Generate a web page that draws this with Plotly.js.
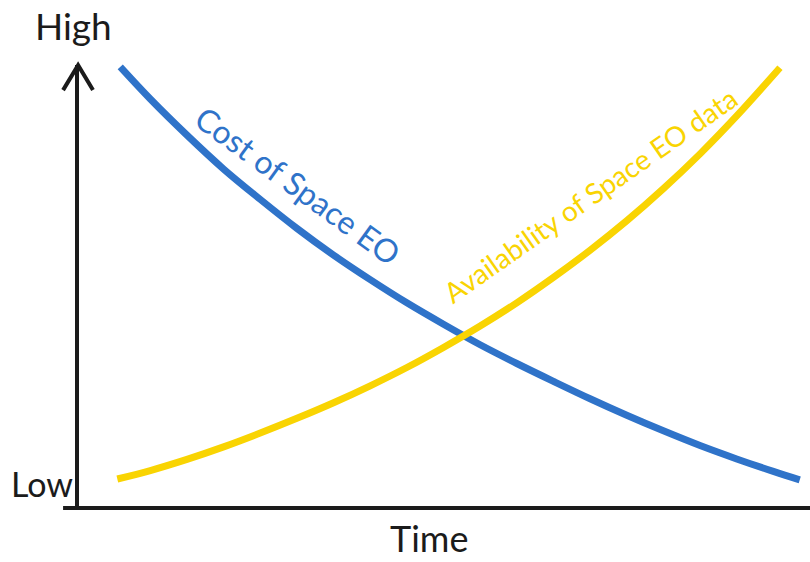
<!DOCTYPE html>
<html>
<head>
<meta charset="utf-8">
<script src="https://cdn.plot.ly/plotly-3.0.1.min.js"></script>
<style>html,body{margin:0;padding:0;background:#fff;}#chart{width:810px;height:562px;}</style>
</head>
<body>
<div id="chart"></div>
<script>
var costX = [0.59, 1.0, 1.5, 2.0, 2.5, 3.0, 3.5, 4.0, 4.5, 5.0, 5.5, 6.0, 6.5, 7.0, 7.5, 8.0, 8.5, 9.0, 9.5, 9.86];
var costY = [9.89, 9.17, 8.36, 7.60, 6.92, 6.27, 5.67, 5.12, 4.60, 4.12, 3.66, 3.24, 2.84, 2.45, 2.08, 1.73, 1.40, 1.10, 0.82, 0.63];
var availX = [0.55, 1.0, 1.5, 2.0, 2.5, 3.0, 3.5, 4.0, 4.5, 5.0, 5.5, 6.0, 6.5, 7.0, 7.5, 8.0, 8.5, 9.0, 9.59];
var availY = [0.65, 0.84, 1.09, 1.37, 1.68, 2.01, 2.36, 2.74, 3.15, 3.60, 4.08, 4.60, 5.17, 5.78, 6.44, 7.16, 7.94, 8.79, 9.87];
var costLabel = "Cost of Space EO";
var availLabel = "Availability of Space EO data";
var yHighLabel = "High";
var yLowLabel = "Low";
var xLabel = "Time";

var FONT = "Lato, 'Open Sans', sans-serif";
var BLUE = "#2f73c9";
var YELLOW = "#f9d402";
var INK = "#1b1b1b";

var traces = [
  {x: costX, y: costY, mode: "lines", line: {color: BLUE, width: 7, shape: "spline"}, hoverinfo: "skip"},
  {x: availX, y: availY, mode: "lines", line: {color: YELLOW, width: 7, shape: "spline"}, hoverinfo: "skip"}
];

var layout = {
  width: 810, height: 562,
  margin: {l: 77, r: 0, t: 62, b: 54},
  paper_bgcolor: "#ffffff", plot_bgcolor: "#ffffff",
  showlegend: false,
  xaxis: {range: [0, 10], visible: false, fixedrange: true},
  yaxis: {range: [0, 10], visible: false, fixedrange: true},
  shapes: [
    {type: "line", xref: "paper", yref: "paper", x0: 0, y0: 0, x1: 0, y1: 0.993, line: {color: INK, width: 4}},
    {type: "line", xref: "paper", yref: "paper", x0: -0.019, y0: 0, x1: 1, y1: 0, line: {color: INK, width: 4}},
    {type: "path", xref: "paper", yref: "paper", path: "M -0.019,0.937 L 0.0015,0.993 L 0.0218,0.937", line: {color: INK, width: 4}}
  ],
  annotations: [
    {xref: "paper", yref: "paper", x: -0.005, y: 1.082, xanchor: "center", yanchor: "middle", text: yHighLabel, showarrow: false, font: {family: FONT, size: 37, color: INK}},
    {xref: "paper", yref: "paper", x: -0.048, y: 0.055, xanchor: "center", yanchor: "middle", text: yLowLabel, showarrow: false, font: {family: FONT, size: 34, color: INK}},
    {xref: "paper", yref: "paper", x: 0.48, y: -0.121, xanchor: "center", yanchor: "bottom", text: xLabel, showarrow: false, font: {family: FONT, size: 36, color: INK}},
    {xref: "x", yref: "y", x: 3.02, y: 7.22, xanchor: "center", yanchor: "middle", text: costLabel, textangle: 36, showarrow: false, font: {family: FONT, size: 32, color: BLUE}},
    {xref: "x", yref: "y", x: 7.0, y: 7.02, xanchor: "center", yanchor: "middle", text: availLabel, textangle: -35, showarrow: false, font: {family: FONT, size: 28, color: YELLOW}}
  ]
};

Plotly.newPlot("chart", traces, layout, {displayModeBar: false, staticPlot: true});
</script>
</body>
</html>
